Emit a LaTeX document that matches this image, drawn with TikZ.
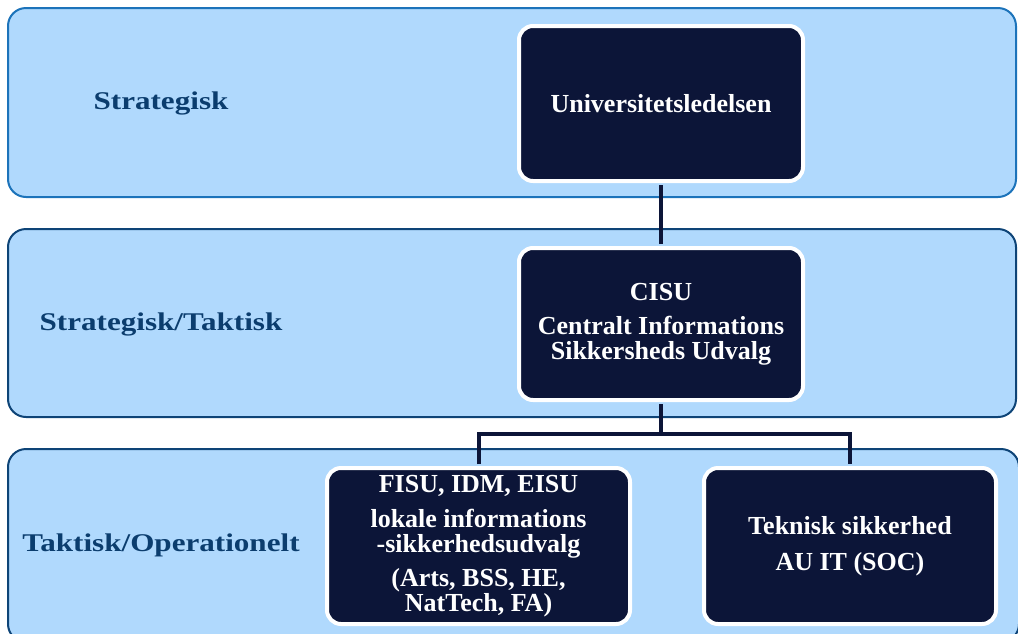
\documentclass[tikz,border=0pt]{standalone}
\usepackage{fontspec}
\setmainfont{Liberation Serif}
\newfontfamily\bandfont{Liberation Serif}[FakeStretch=1.22]
\definecolor{bandfill}{HTML}{B0D9FD}
\definecolor{bandtop}{HTML}{1C73BA}
\definecolor{banddark}{HTML}{0E4477}
\definecolor{labelc}{HTML}{0B3D6E}
\definecolor{navy}{HTML}{0C1538}
\tikzset{
  band/.style={fill=bandfill, line width=2pt, rounded corners=18pt},
  bandlabel/.style={text=labelc, font=\bandfont\bfseries\fontsize{25.5}{28}\selectfont},
  orgbox/.style={draw=white, fill=navy, line width=4pt, rounded corners=14pt,
    text=white, align=center, font=\bfseries\fontsize{26}{25}\selectfont, inner sep=0pt},
  conn/.style={draw=navy, line width=4pt}
}
\begin{document}
\begin{tikzpicture}[x=1pt,y=-1pt]
\useasboundingbox (0,0) rectangle (1018,633);
\draw[band, draw=bandtop] (8,8) rectangle (1016,197);
\draw[band, draw=banddark] (8,229) rectangle (1016,417);
\draw[band, draw=banddark] (8,449) rectangle (1019,642);

\node[bandlabel] (l1) at (161,103) {Strategisk};
\node[bandlabel] (l2) at (161,324) {Strategisk/Taktisk};
\node[bandlabel] (l3) at (161,545) {Taktisk/Operationelt};

\node[orgbox, minimum width=284pt, minimum height=155pt] (uni) at (661,103.5) {Universitetsledelsen};
\node[orgbox, minimum width=284pt, minimum height=152pt] (cisu) at (661,324) {CISU\\[9pt]Centralt Informations\\Sikkersheds Udvalg};
\node[orgbox, minimum width=303pt, minimum height=156pt] (fisu) at (478.5,546) {FISU, IDM, EISU\\[10pt]lokale informations\\-sikkerhedsudvalg\\[9pt](Arts, BSS, HE,\\NatTech, FA)};
\node[orgbox, minimum width=292pt, minimum height=156pt] (tek) at (850,546) {Teknisk sikkerhed\\[11pt]AU IT (SOC)};

\coordinate (split) at ([yshift=-32pt]cisu.south);
\draw[conn] ([yshift=-2pt]uni.south) -- ([yshift=2pt]cisu.north);
\draw[conn] ([yshift=-2pt]cisu.south) -- (split);
\draw[conn] ([yshift=2pt]fisu.north) |- (split) -| ([yshift=2pt]tek.north);
\end{tikzpicture}
\end{document}
